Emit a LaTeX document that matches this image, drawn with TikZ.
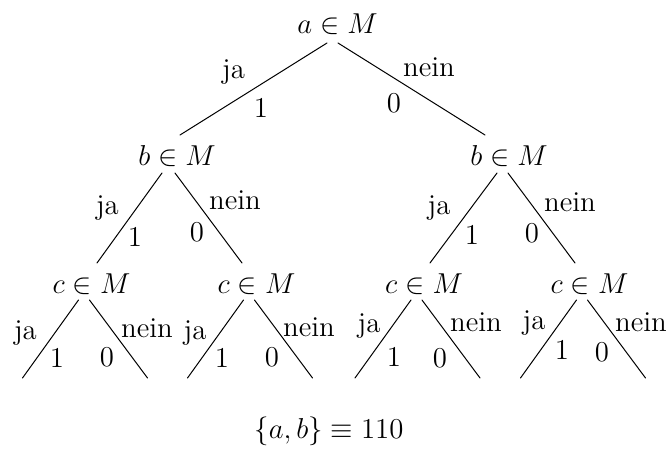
\documentclass[tikz,border=0pt]{standalone}
\usetikzlibrary{calc}

\begin{document}
\begin{tikzpicture}[x=0.5pt, y=-0.5pt, line cap=round, line join=round,
  quest/.style={anchor=base, inner sep=0pt, font=\Large},
  lab/.style={inner sep=0pt, font=\Large},
  branch/.style={line width=0.5pt}]
\useasboundingbox (0,0) rectangle (670,455);

% questions
\node[quest] (a) at (337.5,33) {$a\in M$};
\node[quest] (b1) at (177,165) {$b\in M$};
\node[quest] (b2) at (509,165) {$b\in M$};
\node[quest] (c1) at (91.5,293) {$c\in M$};
\node[quest] (c2) at (256.5,293) {$c\in M$};
\node[quest] (c3) at (424,293) {$c\in M$};
\node[quest] (c4) at (589.5,293) {$c\in M$};
\node[quest] (res) at (329,438) {$\{a,b\}\equiv 110$};

% branches
\draw[branch] ($(a.base)+(-10.5,10)$) -- ($(b1.base)+(3,-30)$);
\draw[branch] ($(a.base)+(0.5,10)$) -- ($(b2.base)+(-24,-30)$);
\draw[branch] ($(b1.base)+(-15,8)$) -- ($(c1.base)+(5.5,-30)$);
\draw[branch] ($(b1.base)+(-2,8)$) -- ($(c2.base)+(-14.5,-30)$);
\draw[branch] ($(b2.base)+(-12,8)$) -- ($(c3.base)+(6,-30)$);
\draw[branch] ($(b2.base)+(-1,8)$) -- ($(c4.base)+(-14.5,-30)$);
\foreach \n in {1,...,4} {
  \draw[branch] ($(c\n.base)+(-13,7)$) -- ++(-56,78);
  \draw[branch] ($(c\n.base)+(-2,7)$) -- ++(58,78);
}

% labels
\node[lab] (ja0) at (233.5,72) {ja};
\node[lab] (eins0) at (261,108) {1};
\node[lab] (null0) at (394,103) {0};
\node[lab] (nein0) at (429,67) {nein};

\node[lab] (ja1) at (107.5,208) {ja};
\node[lab] (eins1) at (135,237) {1};
\node[lab] (null1) at (197,232) {0};
\node[lab] (nein1) at (235,200) {nein};
\node[lab] (ja2) at (439,208) {ja};
\node[lab] (eins2) at (472,235) {1};
\node[lab] (null2) at (532,233) {0};
\node[lab] (nein2) at (570,202) {nein};

\node[lab] (ja3) at (25.5,333) {ja};
\node[lab] (eins3) at (57,358) {1};
\node[lab] (null3) at (107,357) {0};
\node[lab] (nein3) at (147,328) {nein};
\node[lab] (ja4) at (195,333) {ja};
\node[lab] (eins4) at (222,358) {1};
\node[lab] (null4) at (272,357) {0};
\node[lab] (nein4) at (309,327) {nein};
\node[lab] (ja5) at (369,326) {ja};
\node[lab] (eins5) at (394,357) {1};
\node[lab] (null5) at (440,358) {0};
\node[lab] (nein5) at (476,322) {nein};
\node[lab] (ja6) at (534,323) {ja};
\node[lab] (eins6) at (562,350) {1};
\node[lab] (null6) at (602,352) {0};
\node[lab] (nein6) at (641,322) {nein};

\end{tikzpicture}
\end{document}
